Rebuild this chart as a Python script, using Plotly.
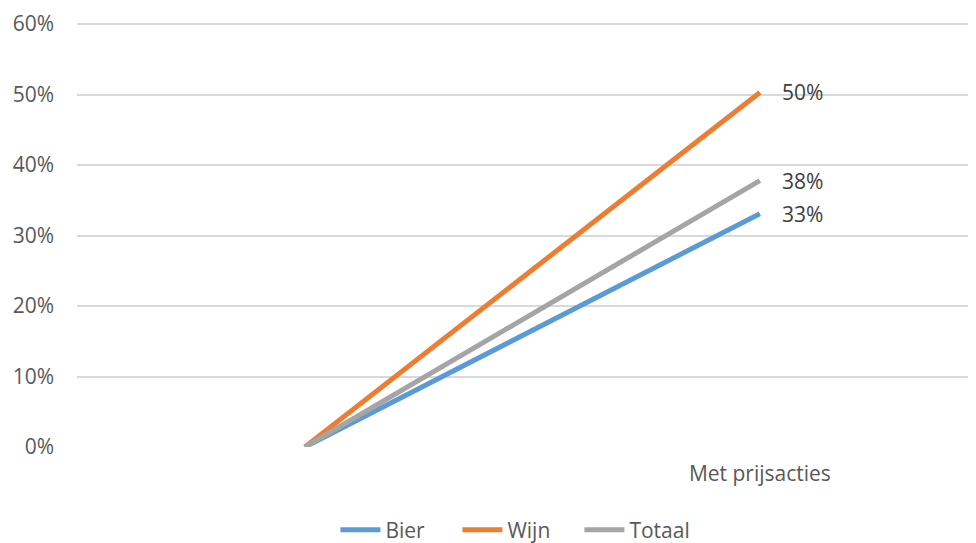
import plotly.graph_objects as go

categories = ["", "Met prijsacties"]
bier = [0.0, 0.331]
wijn = [0.0, 0.503]
totaal = [0.0, 0.378]
y_ticks = [0, 0.1, 0.2, 0.3, 0.4, 0.5, 0.6]

series = [("Bier", bier, "#5B9BD5"), ("Wijn", wijn, "#ED7D31"), ("Totaal", totaal, "#A5A5A5")]
xs = list(range(len(categories)))

fig = go.Figure()
for name, vals, col in series:
    fig.add_trace(go.Scatter(
        x=xs, y=vals, name=name, mode="lines",
        line=dict(color=col, width=5),
        cliponaxis=False,
    ))
    fig.add_annotation(
        x=xs[-1], y=vals[-1], text=f"{vals[-1]*100:.0f}%",
        showarrow=False, xanchor="left", yanchor="middle", xshift=20,
        font=dict(color="#404040", size=21),
    )

fig.update_layout(
    width=968, height=535,
    margin=dict(l=69, r=0, t=15, b=96, autoexpand=False),
    paper_bgcolor="white", plot_bgcolor="white",
    font=dict(family="Open Sans", color="#595959", size=21),
    showlegend=True,
    legend=dict(orientation="h", x=0.491, xanchor="center", y=-0.196, yanchor="middle",
                font=dict(size=21, color="#595959"), itemwidth=40, tracegroupgap=0,
                entrywidth=67),
    xaxis=dict(range=[-0.501, 1.475], tickvals=xs, ticktext=categories,
               showgrid=False, zeroline=False, showline=False, ticks="",
               ticklabelstandoff=12, fixedrange=True, automargin=False),
    yaxis=dict(range=[0, 0.6015], tickvals=y_ticks, tickformat=".0%",
               showgrid=True, gridcolor="#D9D9D9", gridwidth=1.5,
               zeroline=False, showline=False, ticks="", ticklabelstandoff=22,
               automargin=False),
)

fig.write_html("out.html")
